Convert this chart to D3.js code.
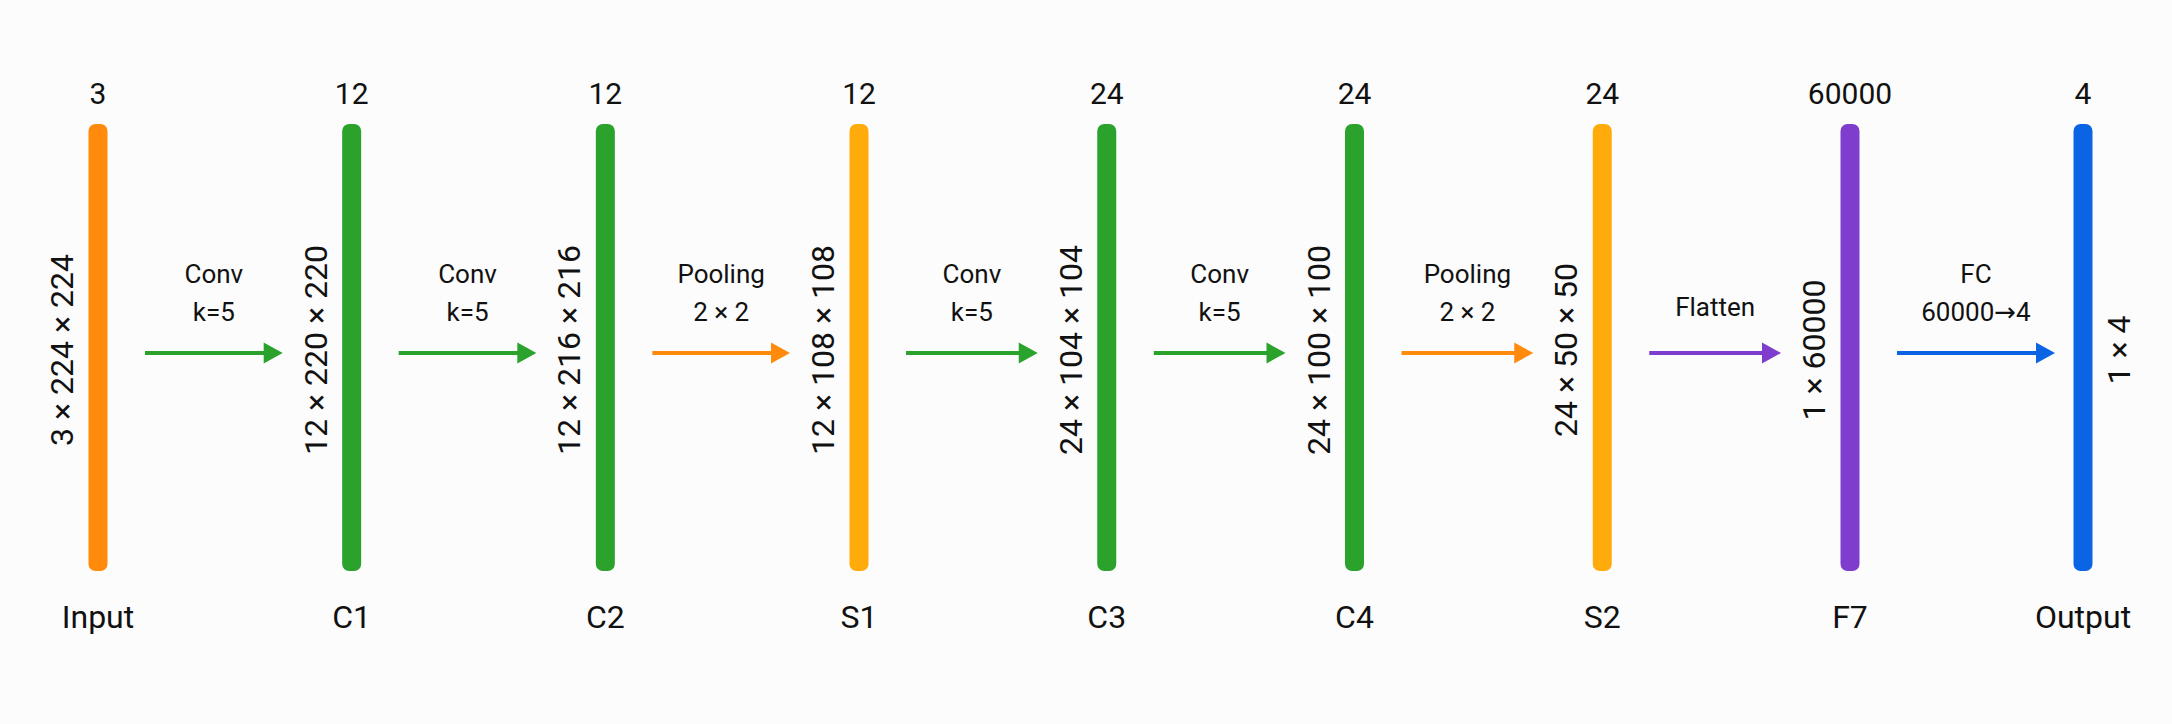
<!DOCTYPE html>
<html>
<head>
<meta charset="utf-8">
<script src="https://cdn.jsdelivr.net/npm/d3@7"></script>
<style>
	html, body { margin: 0; padding: 0; background: #fcfcfc; }
	svg { display: block; font-family: Roboto, 'Noto Sans', sans-serif; }
</style>
</head>
<body>
<div id="chart"></div>
<script>
// Layers, left to right
const layerNames = ['Input', 'C1', 'C2', 'S1', 'C3', 'C4', 'S2', 'F7', 'Output'];
const layerChannels = ['3', '12', '12', '12', '24', '24', '24', '60000', '4'];
const layerShapes = ['3 × 224 × 224', '12 × 220 × 220', '12 × 216 × 216', '12 × 108 × 108', '24 × 104 × 104', '24 × 100 × 100', '24 × 50 × 50', '1 × 60000', '1 × 4'];
const layerKinds = ['input', 'conv', 'conv', 'pool', 'conv', 'conv', 'pool', 'flat', 'output'];

// Operations between layers
const opKinds = ['conv', 'conv', 'pool', 'conv', 'conv', 'pool', 'flat', 'fc'];
const opLabels = [['Conv', 'k=5'], ['Conv', 'k=5'], ['Pooling', '2 × 2'], ['Conv', 'k=5'], ['Conv', 'k=5'], ['Pooling', '2 × 2'], ['Flatten'], ['FC', '60000→4']];

const width = 2172;
const height = 724;

const layerColor = d3.scaleOrdinal()
	.domain(['input', 'conv', 'pool', 'flat', 'output'])
	.range(['#ff8a0c', '#2aa22c', '#ffab0c', '#7f3dce', '#0a64e4']);
const opColor = d3.scaleOrdinal()
	.domain(['conv', 'pool', 'flat', 'fc'])
	.range(['#2aa22c', '#ff8a0c', '#7f3dce', '#0a64e4']);

// Horizontal placement (gaps are not quite even in the original)
const n = layerNames.length;
const x = d3.scaleLinear().domain([0, 3, n - 2, n - 1]).range([98, 859, 1850, 2083]);

const barTop = 124;
const barBottom = 571;
const barW = 19;
const midY = 350;
const arrowY = 353;

const svg = d3.select('#chart').append('svg').attr('width', width).attr('height', height);
svg.append('rect').attr('width', width).attr('height', height).attr('fill', '#fcfcfc');

const layers = d3.range(n).map((i) => ({
	i: i,
	name: layerNames[i],
	channels: layerChannels[i],
	shape: layerShapes[i],
	kind: layerKinds[i],
	labelRight: i === n - 1,
}));

const layer = svg.selectAll('.layer').data(layers).enter().append('g').attr('class', 'layer');

layer
	.append('rect')
	.attr('x', (d) => x(d.i) - barW / 2)
	.attr('y', barTop)
	.attr('width', barW)
	.attr('height', barBottom - barTop)
	.attr('rx', 7)
	.attr('fill', (d) => layerColor(d.kind));

layer
	.append('text')
	.attr('x', (d) => x(d.i))
	.attr('y', 104)
	.attr('text-anchor', 'middle')
	.attr('font-size', 30)
	.attr('fill', '#111')
	.text((d) => d.channels);

layer
	.append('text')
	.attr('x', (d) => x(d.i))
	.attr('y', 628)
	.attr('text-anchor', 'middle')
	.attr('font-size', 32)
	.attr('fill', '#111')
	.text((d) => d.name);

// Shape labels, rotated, beside each bar
layer
	.append('text')
	.attr('transform', (d) => `translate(${x(d.i) + (d.labelRight ? 47 : -25)},${midY}) rotate(-90)`)
	.attr('text-anchor', 'middle')
	.attr('font-size', 32)
	.attr('fill', '#111')
	.text((d) => d.shape);

// Arrows
const ops = opKinds.map((k, i) => {
	const x1 = x(i) + 47;
	const x2 = x(i + 1) - (layers[i + 1].labelRight ? 28 : 69);
	return { i: i, kind: k, lines: opLabels[i], x1: x1, x2: x2 };
});

const headL = 19;
const headH = 21;

const op = svg.selectAll('.op').data(ops).enter().append('g').attr('class', 'op');

op
	.append('line')
	.attr('x1', (d) => d.x1)
	.attr('x2', (d) => d.x2 - headL + 1)
	.attr('y1', arrowY)
	.attr('y2', arrowY)
	.attr('stroke', (d) => opColor(d.kind))
	.attr('stroke-width', 4);

op
	.append('path')
	.attr('d', (d) => `M${d.x2},${arrowY} L${d.x2 - headL},${arrowY - headH / 2} L${d.x2 - headL},${arrowY + headH / 2} Z`)
	.attr('fill', (d) => opColor(d.kind));

op.each(function (d) {
	const g = d3.select(this);
	const cx = (d.x1 + d.x2) / 2;
	const baselines = d.lines.length === 1 ? [316] : [283, 321];
	d.lines.forEach((t, j) => {
		const txt = g.append('text')
			.attr('x', cx)
			.attr('y', baselines[j])
			.attr('text-anchor', 'middle')
			.attr('font-size', 26)
			.attr('fill', '#111');
		// Roboto's arrow is tiny, so take that glyph from DejaVu
		t.split(/(→)/).filter((s) => s.length).forEach((part) => {
			const span = txt.append('tspan').text(part);
			if (part === '→') span.attr('font-family', 'DejaVu Sans');
		});
	});
});
</script>
</body>
</html>
